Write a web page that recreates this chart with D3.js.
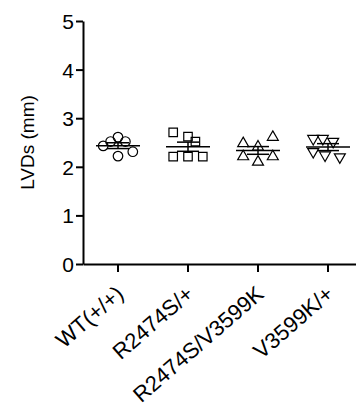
<!DOCTYPE html>
<html>
<head>
<style>
body { margin: 0; background: #fff; }
#chart text { font-family: "Liberation Sans", Arial, sans-serif; fill: #000; }
</style>
</head>
<body>
<svg id="chart" width="356" height="409"></svg>
<script src="https://d3js.org/d3.v7.min.js"></script>
<script>
const groups = ["WT(+/+)", "R2474S/+", "R2474S/V3599K", "V3599K/+"];
const wt = [2.43, 2.52, 2.61, 2.52, 2.22, 2.31];
const r2474s = [2.71, 2.62, 2.52, 2.21, 2.21, 2.21];
const compound = [2.48, 2.41, 2.61, 2.21, 2.10, 2.21];
const v3599k = [2.58, 2.58, 2.52, 2.31, 2.24, 2.20];
const yTicks = [0, 1, 2, 3, 4, 5];

const series = [wt, r2474s, compound, v3599k];
const shapes = [d3.symbolCircle, d3.symbolSquare, d3.symbolTriangle, d3.symbolTriangle];
// horizontal dodge slot for each point (so markers don't sit on top of each other)
const slots = [
    [-2, -1, 0, 1, 0, 2],
    [-2, 0, 1, -2, 0, 2],
    [-2, 0, 2, -2, 0, 2],
    [-2, -0.7, 0.7, -2, -0.4, 1.6]
];

const svg = d3.select("#chart");
const padLeft = 83, padTop = 21, axisY = 264;

const x = d3.scaleBand().domain(groups).range([padLeft, padLeft + 280]);
const y = d3.scaleLinear().domain([0, 5]).range([axisY, padTop]);

// y axis
const gy = svg.append("g")
    .attr("transform", `translate(${padLeft},0)`)
    .call(d3.axisLeft(y).tickValues(yTicks).tickSize(7).tickSizeOuter(0).tickPadding(2).tickFormat(d3.format("d")));
gy.selectAll("text").attr("font-size", 21).attr("dy", "0.36em");

// x axis
const gx = svg.append("g")
    .attr("transform", `translate(0,${axisY})`)
    .call(d3.axisBottom(x).tickSize(8).tickSizeOuter(0));
gx.selectAll("text")
    .attr("font-size", 22)
    .attr("text-anchor", "end")
    .attr("dy", null)
    .attr("y", 0)
    .attr("transform", "translate(7,32) rotate(-41)");

svg.selectAll(".domain, .tick line").attr("stroke", "#000").attr("stroke-width", 2);
gx.attr("font-family", null);
gy.attr("font-family", null);

svg.append("text")
    .attr("transform", `translate(34,${(padTop + axisY) / 2}) rotate(-90)`)
    .attr("text-anchor", "middle")
    .attr("font-size", 19)
    .text("LVDs (mm)");

const step = 7.4;
series.forEach((vals, gi) => {
    const cx = x(groups[gi]) + x.bandwidth() / 2;
    const g = svg.append("g");
    const sym = d3.symbol().type(shapes[gi]).size(gi < 2 ? 72 : 52);
    g.selectAll("path")
        .data(vals)
        .join("path")
        .attr("d", sym)
        .attr("transform", (d, i) => `translate(${cx + slots[gi][i] * step},${y(d)})` + (gi === 3 ? " rotate(180)" : ""))
        .attr("fill", "none")
        .attr("stroke", "#000")
        .attr("stroke-width", 1.2);

    const mean = d3.mean(vals);
    const sem = d3.deviation(vals) / Math.sqrt(vals.length);
    const stats = g.append("g").attr("stroke", "#000").attr("stroke-width", 1.5);
    stats.append("line").attr("x1", cx - 22).attr("x2", cx + 22).attr("y1", y(mean)).attr("y2", y(mean));
    stats.append("line").attr("x1", cx).attr("x2", cx).attr("y1", y(mean - sem)).attr("y2", y(mean + sem));
    [mean - sem, mean + sem].forEach(v => {
        stats.append("line").attr("x1", cx - 11).attr("x2", cx + 11).attr("y1", y(v)).attr("y2", y(v));
    });
});
</script>
</body>
</html>
